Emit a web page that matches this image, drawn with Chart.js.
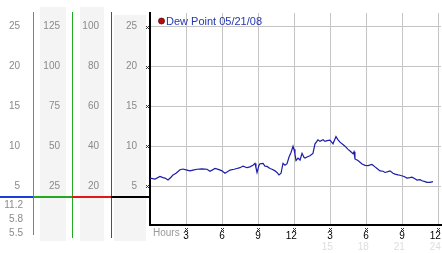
<!DOCTYPE html>
<html><head><meta charset="utf-8">
<script src="https://cdn.jsdelivr.net/npm/chart.js@4.4.1/dist/chart.umd.min.js"></script>
<style>html,body{margin:0;padding:0;background:#fff;overflow:hidden}</style>
</head><body>
<canvas id="c" width="442" height="253"></canvas>
<script>
// ---- data ----
const hours = [0,0.42,0.83,1.08,1.25,1.5,1.75,1.92,2.17,2.5,2.75,3.08,3.33,3.58,3.92,4.33,4.75,5.0,5.42,5.75,6.0,6.25,6.67,7.0,7.25,7.5,7.75,8.08,8.33,8.58,8.75,8.83,8.92,9.08,9.17,9.42,9.58,9.75,10.0,10.17,10.42,10.58,10.75,10.92,11.08,11.25,11.42,11.58,11.75,11.92,12.0,12.08,12.17,12.33,12.5,12.67,12.83,12.92,13.17,13.33,13.58,13.75,14.0,14.17,14.42,14.58,14.75,15.0,15.25,15.5,15.67,15.83,16.08,16.25,16.5,16.67,16.92,17.0,17.08,17.33,17.67,17.92,18.17,18.5,18.75,18.92,19.17,19.42,19.58,19.83,20.0,20.25,20.42,20.67,20.83,21.17,21.42,21.67,21.83,22.08,22.25,22.5,22.67,22.92,23.08,23.33,23.58];
const dewPoint = [6.0,5.87,6.2,6.05,6.0,5.75,6.1,6.4,6.6,7.04,7.13,7.0,6.9,7.0,7.1,7.15,7.1,6.85,7.2,7.05,6.9,6.6,7.0,7.1,7.2,7.3,7.5,7.3,7.4,7.6,7.84,7.3,6.7,7.6,7.8,7.84,7.5,7.46,7.2,7.1,6.9,6.7,6.4,6.6,7.84,7.6,7.8,8.6,9.2,10.0,9.6,9.0,8.2,8.5,8.26,9.1,8.6,8.5,8.7,8.8,9.1,10.3,10.8,10.6,10.8,10.6,10.7,10.75,10.3,11.2,10.8,10.5,10.2,10.0,9.6,9.4,9.05,9.3,8.4,8.2,7.76,7.6,7.55,7.7,7.4,7.2,6.9,6.85,6.7,6.8,6.9,6.6,6.5,6.4,6.35,6.2,6.0,6.05,6.1,5.9,5.75,5.8,5.66,5.55,5.45,5.45,5.55];
const hourTicks = [3,6,9,12,15,18,21,24];
const tempTicks = [5,10,15,20,25];
const scale2Ticks = [25,50,75,100,125];
const scale3Ticks = [20,40,60,80,100];
const statLabels = ['11.2','5.8','5.5'];
const seriesLabel = 'Dew Point 05/21/08';
const axisTitle = 'Hours';

// ---- setup ----
const FONT = "'Liberation Sans', Arial, sans-serif";
const yMin = 0.104, yMax = 26.72;
const fixTicks = arr => s => { s.ticks = arr.map(v => ({value: v})); };
const fitW = w => s => { s.width = w; s.paddingTop = 0; s.paddingBottom = 0; };
const fitH = h => s => { s.height = h; s.paddingLeft = 0; s.paddingRight = 0; };
const twoDigit = t => (String(t).length > 1 ? String(t) + '\u2007' : String(t));
const sideAxis = (weight, factor, ticks, width, pad) => ({
  type: 'linear', position: 'left', weight, display: true,
  min: yMin * factor, max: yMax * factor,
  afterBuildTicks: fixTicks(ticks), afterFit: fitW(width),
  grid: {display: false, drawTicks: false}, border: {display: false},
  ticks: {padding: pad, color: '#8a8a8a', font: {family: FONT, size: 10}}
});

const decor = {
  id: 'decor',
  beforeDraw(chart) {
    const ctx = chart.ctx, s = chart.scales;
    ctx.save();
    ctx.fillStyle = '#f4f4f4';
    ctx.fillRect(s.c2.left + 7, 7, s.c2.width - 13, 234);
    ctx.fillRect(s.c3.left + 8, 7, s.c3.width - 15, 234);
    ctx.fillRect(s.y.left + 3, 15, s.y.width - 7, 226);
    ctx.restore();
  },
  afterDraw(chart) {
    const ctx = chart.ctx, s = chart.scales, a = chart.chartArea;
    ctx.save();
    // vertical separators
    const vlines = [[s.c1.right, '#2f9ad0', 235], [s.c2.right, '#22aa22', 238], [s.c3.right, '#c42020', 238]];
    vlines.forEach(([x, col, b]) => { ctx.fillStyle = col; ctx.fillRect(Math.round(x), 12, 1, b - 12); });
    // horizontal separator
    const hy = 196;
    ctx.fillStyle = '#1a3fd8'; ctx.fillRect(0, hy, s.c1.right, 2);
    ctx.fillStyle = '#22aa22'; ctx.fillRect(s.c1.right, hy, s.c2.right - s.c1.right, 2);
    ctx.fillStyle = '#e01818'; ctx.fillRect(s.c2.right, hy, s.c3.right - s.c2.right, 2);
    ctx.fillStyle = '#000'; ctx.fillRect(s.c3.right, hy, a.left - s.c3.right, 2);
    // stats
    ctx.font = '10px ' + FONT; ctx.fillStyle = '#8a8a8a';
    ctx.textAlign = 'right'; ctx.textBaseline = 'middle';
    statLabels.forEach((t, i) => ctx.fillText(t, s.c1.right - 10, 205 + i * 14));
    // Hours
    ctx.textAlign = 'left'; ctx.fillStyle = '#9a9a9a';
    ctx.fillText(axisTitle, a.left + 3, 233);
    // tiny tick marks
    ctx.fillStyle = '#333';
    const mark = (cx, cy) => {
      [[-1,-1],[1,-1],[0,0],[-1,1],[1,1]].forEach(([dx,dy]) => ctx.fillRect(cx + dx, cy + dy, 1, 1));
    };
    hourTicks.forEach(h => mark(Math.round(s.x.getPixelForValue(h)), 229));
    tempTicks.forEach(v => mark(a.left - 3, Math.round(s.y.getPixelForValue(v))));
    // legend
    ctx.beginPath(); ctx.arc(161.5, 21, 3, 0, Math.PI * 2);
    ctx.fillStyle = '#b01010'; ctx.fill();
    ctx.lineWidth = 0.8; ctx.strokeStyle = '#600'; ctx.stroke();
    ctx.font = '11px ' + FONT; ctx.fillStyle = '#2436b0';
    ctx.textAlign = 'left'; ctx.textBaseline = 'middle';
    ctx.fillText(seriesLabel, 166, 21.5);
    ctx.restore();
  }
};

new Chart(document.getElementById('c'), {
  type: 'line',
  data: {
    datasets: [{
      label: seriesLabel,
      data: hours.map((h, i) => ({x: h, y: dewPoint[i]})),
      xAxisID: 'x', yAxisID: 'y',
      borderColor: '#1c1ca8', borderWidth: 1.2, pointRadius: 0, tension: 0, fill: false
    }]
  },
  options: {
    responsive: false, animation: false, devicePixelRatio: 1,
    layout: {padding: {top: 13, right: 1, left: 0, bottom: 0}},
    plugins: {legend: {display: false}, tooltip: {enabled: false}},
    scales: {
      x: {
        type: 'linear', position: 'bottom', weight: 0, min: 0, max: 24.25,
        afterBuildTicks: fixTicks(hourTicks), afterFit: fitH(16),
        grid: {color: '#c4c4c4', drawTicks: false},
        border: {color: '#000', width: 2},
        ticks: {autoSkip: false, maxRotation: 0, padding: 5, color: '#000',
          font: {family: FONT, size: 10},
          callback: v => twoDigit(v > 12 ? v - 12 : v)}
      },
      x2: {
        type: 'linear', position: 'bottom', weight: 1, min: 0, max: 24.25, display: true,
        afterBuildTicks: fixTicks(hourTicks.filter(v => v > 12)), afterFit: fitH(12),
        grid: {display: false, drawTicks: false}, border: {display: false},
        ticks: {autoSkip: false, maxRotation: 0, padding: 0, color: '#dedede',
          font: {family: FONT, size: 10}, callback: v => twoDigit(v)}
      },
      y: {
        type: 'linear', position: 'left', weight: 0, min: yMin, max: yMax,
        afterBuildTicks: fixTicks(tempTicks), afterFit: fitW(39),
        grid: {color: '#c4c4c4', drawTicks: false},
        border: {color: '#000', width: 2},
        ticks: {padding: 13, color: '#8a8a8a', font: {family: FONT, size: 10}}
      },
      c3: sideAxis(1, 4, scale3Ticks, 39, 12),
      c2: sideAxis(2, 5, scale2Ticks, 39, 12),
      c1: sideAxis(3, 1, tempTicks, 33, 13)
    }
  },
  plugins: [decor]
});
</script>
</body></html>
